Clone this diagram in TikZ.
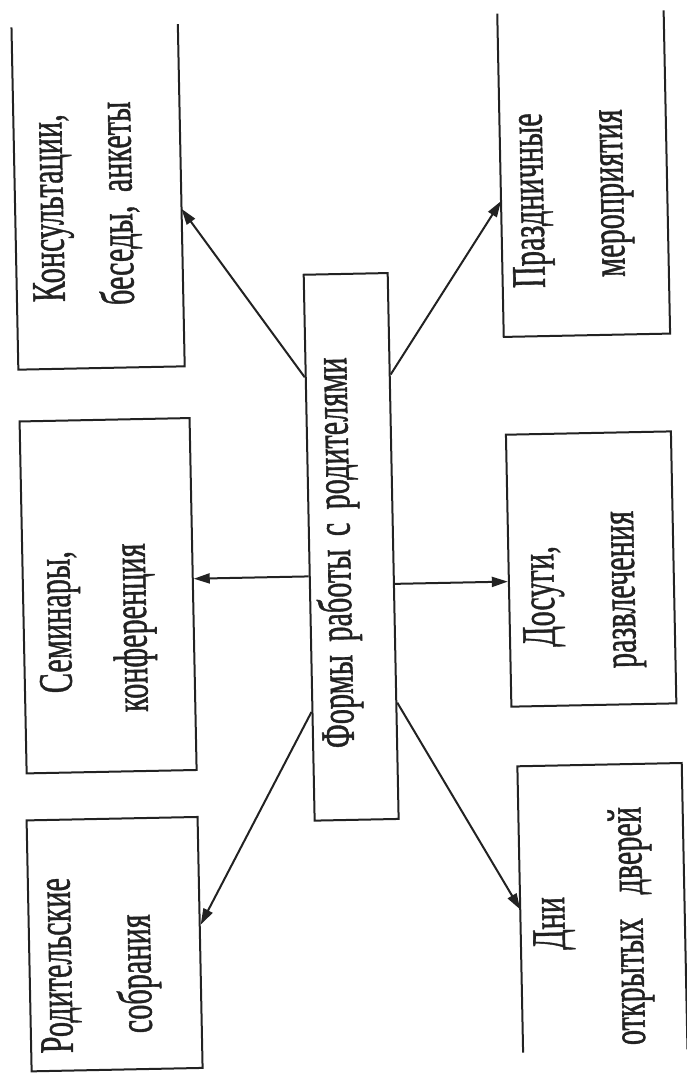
\documentclass[tikz,border=0pt]{standalone}
\usepackage{fontspec}
\setmainfont{Liberation Serif}
\newfontfamily\scanfont{Liberation Serif}[FakeBold=1.2]
\usetikzlibrary{calc,arrows.meta}
\definecolor{ink}{HTML}{222222}
\newcommand{\narrow}[1]{\scalebox{0.63}[1]{#1}}
\begin{document}
\begin{tikzpicture}[x=1pt,y=-1pt,
    frame/.style={draw=ink,line width=2pt,inner sep=0pt},
    openframe/.style={inner sep=0pt},
    lbl/.style={rotate=90,anchor=base west,inner sep=0pt,text=ink,font=\scanfont\fontsize{48}{48}\selectfont},
    arr/.style={draw=ink,line width=2pt,-{Triangle[length=16pt,width=10pt]}}]
    \useasboundingbox[fill=white] (0,0) rectangle (686,1078);
    \begin{scope}[rotate around={1.15:(343,539)},transform shape]
    % boxes
    \node[frame,minimum width=84pt,minimum height=546pt] (forms) at (351,547) {};
    \node[openframe,minimum width=166pt,minimum height=342pt] (konsult) at (105,192) {};
    \node[openframe,minimum width=166pt,minimum height=323pt] (prazd) at (591,178.5) {};
    \node[frame,minimum width=170pt,minimum height=352pt] (semin) at (107,591) {};
    \node[frame,minimum width=165pt,minimum height=272pt] (dosug) at (590.5,574) {};
    \node[frame,minimum width=171pt,minimum height=251pt] (roditel) at (106.5,939.5) {};
    \node[openframe,minimum width=164pt,minimum height=286pt] (dni) at (595,913) {};
    \draw[frame] (konsult.north west)--(konsult.south west)--(konsult.south east)--(konsult.north east);
    \draw[frame] (prazd.north west)--(prazd.south west)--(prazd.south east)--(prazd.north east);
    \draw[frame] (dni.south west)--(dni.north west)--(dni.north east)--(dni.south east);
    % texts
    \node[lbl] (forms-a) at (349.8,748.2) {\narrow{\makebox[620pt][s]{Формы работы с родителями}}};
    \node[lbl] (konsult-a) at (69.7,296.4) {\narrow{Консультации,}};
    \node[lbl] (konsult-b) at (138.7,300.8) {\narrow{беседы,\hspace{0.45em}анкеты}};
    \node[lbl] (prazd-a) at (550,292) {\narrow{Праздничные}};
    \node[lbl] (prazd-b) at (630,282.6) {\narrow{мероприятия}};
    \node[lbl] (semin-a) at (68.9,687.6) {\narrow{Семинары,}};
    \node[lbl] (semin-b) at (144.5,708) {\narrow{конференция}};
    \node[lbl] (dosug-a) at (552.8,651.2) {\narrow{Досуги,}};
    \node[lbl] (dosug-b) at (633.4,673.9) {\narrow{развлечения}};
    \node[lbl] (roditel-a) at (62.7,1047.6) {\narrow{Родительские}};
    \node[lbl] (roditel-b) at (142.1,1029.2) {\narrow{собрания}};
    \node[lbl] (dni-a) at (556.8,954.4) {\narrow{Дни}};
    \node[lbl] (dni-b) at (634.9,1051) {\narrow{\makebox[378pt][s]{открытых дверей}}};
    % arrows
    \coordinate (k) at ($(konsult.north east)!0.54!(konsult.south east)$);
    \coordinate (p) at ($(prazd.north west)!0.58!(prazd.south west)$);
    \coordinate (s) at ($(semin.north east)!0.457!(semin.south east)$);
    \coordinate (d) at ($(dosug.north west)!0.54!(dosug.south west)$);
    \coordinate (r) at ($(roditel.north east)!0.43!(roditel.south east)$);
    \draw[arr] ($(forms.north west)!0.189!(forms.south west)$) -- (k);
    \draw[arr] ($(forms.north east)!0.187!(forms.south east)$) -- (p);
    \draw[arr] (forms.west |- s) -- (s);
    \draw[arr] (forms.east |- d) -- (d);
    \draw[arr] ($(forms.north west)!0.80!(forms.south west)$) -- (r);
    \draw[arr] ($(forms.north east)!0.786!(forms.south east)$) -- (dni.west);
    \end{scope}
\end{tikzpicture}
\end{document}
